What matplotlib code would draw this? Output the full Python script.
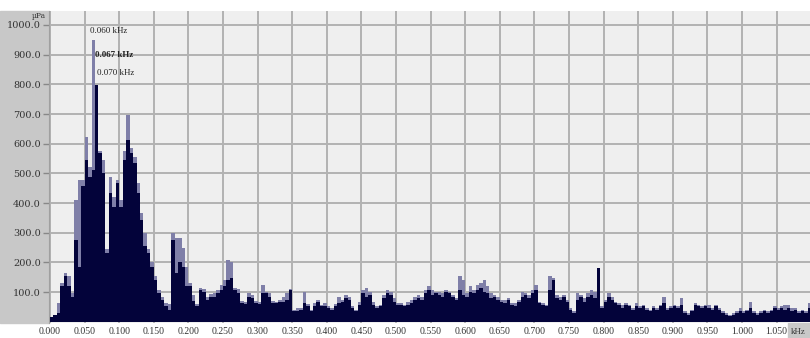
import numpy as np
import matplotlib
matplotlib.use("Agg")
from matplotlib import pyplot as plt
from matplotlib.patches import Rectangle

# Spectrum bins, 5 Hz wide, starting at 0 kHz
bin_khz = 0.005

# Current level (µPa) per bin
level = [
    15, 24, 30, 119, 153, 119, 85, 276, 186, 456,
    545, 489, 512, 798, 569, 502, 232, 434, 388, 468,
    388, 545, 613, 569, 535, 434, 343, 254, 232, 186,
    141, 96, 74, 52, 40, 276, 164, 200, 185, 119,
    119, 70, 52, 108, 100, 74, 85, 85, 96, 108,
    120, 141, 148, 108, 96, 63, 60, 85, 80, 63,
    60, 96, 96, 85, 63, 63, 68, 68, 74, 108,
    35, 35, 40, 63, 52, 35, 52, 68, 52, 52,
    46, 40, 52, 63, 68, 80, 74, 46, 35, 57,
    96, 85, 91, 57, 46, 52, 80, 96, 91, 68,
    57, 57, 52, 57, 63, 74, 80, 74, 96, 108,
    91, 96, 91, 85, 102, 96, 85, 74, 108, 91,
    85, 102, 96, 108, 113, 102, 96, 80, 85, 74,
    68, 63, 74, 57, 52, 68, 85, 91, 80, 96,
    108, 63, 57, 52, 108, 141, 80, 74, 85, 68,
    40, 29, 74, 85, 68, 85, 91, 80, 181, 46,
    68, 85, 74, 63, 57, 46, 57, 52, 40, 52,
    46, 52, 40, 35, 46, 40, 52, 63, 40, 46,
    52, 46, 57, 29, 24, 35, 57, 52, 46, 52,
    46, 40, 52, 40, 29, 24, 18, 24, 29, 35,
    29, 35, 46, 29, 24, 29, 35, 29, 35, 46,
    40, 46, 40, 46, 35, 40, 29, 35, 29, 46,
]

# Peak-hold level (µPa) per bin
peak_hold = [
    15, 24, 64, 131, 164, 153, 98, 411, 478, 478,
    624, 523, 949, 798, 576, 545, 245, 489, 420, 478,
    410, 576, 697, 585, 556, 468, 366, 299, 245, 200,
    153, 108, 85, 64, 60, 299, 283, 283, 248, 185,
    130, 90, 60, 115, 110, 85, 95, 96, 108, 125,
    141, 209, 200, 115, 110, 70, 68, 96, 90, 70,
    68, 125, 102, 96, 70, 68, 74, 85, 96, 110,
    40, 45, 48, 102, 60, 40, 63, 74, 57, 63,
    52, 46, 60, 85, 74, 91, 85, 52, 40, 68,
    108, 113, 102, 68, 52, 57, 91, 108, 102, 80,
    63, 63, 57, 68, 74, 85, 91, 85, 108, 119,
    108, 102, 102, 96, 108, 102, 91, 80, 153, 141,
    96, 119, 108, 125, 130, 141, 119, 96, 91, 85,
    74, 74, 80, 63, 63, 74, 102, 96, 91, 108,
    125, 68, 63, 57, 153, 148, 91, 85, 91, 74,
    46, 35, 96, 91, 80, 96, 108, 102, 181, 52,
    74, 96, 85, 68, 63, 57, 63, 57, 46, 63,
    52, 57, 46, 40, 52, 46, 57, 85, 46, 52,
    57, 52, 80, 35, 29, 40, 63, 57, 52, 57,
    57, 46, 57, 46, 35, 29, 24, 29, 35, 46,
    35, 40, 68, 35, 29, 35, 40, 35, 40, 52,
    46, 52, 57, 57, 46, 46, 35, 40, 35, 63,
]

# Marker readouts near the main peaks
marker_text = ["0.060 kHz", "0.067 kHz", "0.070 kHz"]
marker_khz = [0.058, 0.065, 0.068]
marker_val = [978, 900, 838]

y_ticks = [100, 200, 300, 400, 500, 600, 700, 800, 900, 1000]
x_ticks = np.arange(0, 1.051, 0.05)

freq_khz = np.arange(len(level)) * bin_khz

W, H = 810, 338
fig = plt.figure(figsize=(W / 100, H / 100), dpi=100)
fig.patch.set_facecolor("white")

# grey panel behind the level scale and the unit corner
fig.patches.append(Rectangle((0, 15 / H), 49 / W, (323 - 11) / H,
                             transform=fig.transFigure, color="#c8c8c8", zorder=-5))
fig.patches.append(Rectangle((788 / W, 0), 22 / W, 15 / H,
                             transform=fig.transFigure, color="#c8c8c8", zorder=-5))

ax = fig.add_axes([49 / W, 15 / H, 1 - 49 / W, (323 - 11) / H])
ax.set_facecolor("#efefef")

ax.bar(freq_khz, peak_hold, width=bin_khz, align="edge", color="#7f7fa8",
       linewidth=0, zorder=2)
ax.bar(freq_khz, level, width=bin_khz, align="edge", color="#03033a",
       linewidth=0, zorder=3)

ax.set_xlim(-0.0015, 1.0983)
ax.set_ylim(-4, 1047)

ax.set_yticks(y_ticks)
ax.set_yticklabels([f"{v:.1f}" for v in y_ticks], family="DejaVu Serif",
                   fontsize=7, color="#333333")
ax.set_xticks(x_ticks)
ax.set_xticklabels([f"{v:.3f}" for v in x_ticks], family="Liberation Serif",
                   fontsize=7, color="#333333")
ax.tick_params(axis="y", length=4, width=1, color="#888888", pad=2)
ax.tick_params(axis="x", length=0, pad=3)

ax.grid(True, color="#b2b2b2", linewidth=1.4, zorder=1)
ax.set_axisbelow(True)
for side in ["top", "right", "bottom"]:
    ax.spines[side].set_visible(False)
ax.spines["left"].set_color("#a0a0a0")

for txt, fx, fy, wt in zip(marker_text, marker_khz, marker_val,
                          ["normal", "bold", "normal"]):
    ax.text(fx, fy, txt, family="Liberation Serif", fontsize=6.5,
            fontweight=wt, color="#222222", va="center", ha="left", zorder=5)

fig.text(32 / W, 1 - 16 / H, "µPa", family="DejaVu Serif", fontsize=5.5,
         color="#333333", ha="left", va="center")
fig.text(791 / W, 6 / H, "kHz", family="Liberation Serif", fontsize=6.5,
         color="#333333", ha="left", va="center")

fig.savefig("out.png", dpi=100, facecolor=fig.get_facecolor())
